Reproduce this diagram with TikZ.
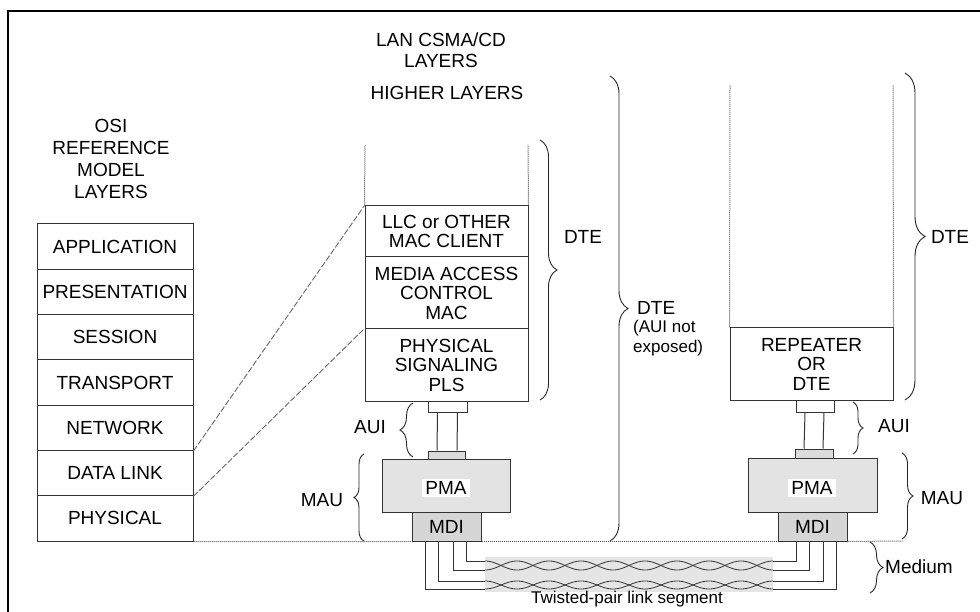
\documentclass[tikz,border=0pt]{standalone}
\usepackage{fontspec}
\setmainfont{Liberation Sans}
\usetikzlibrary{decorations.pathreplacing,calc}
\begin{document}
\begin{tikzpicture}[x=1pt,y=-1pt,
  every node/.style={font=\fontsize{19}{20}\selectfont, text=black, inner sep=0pt},
  small/.style={font=\fontsize{17}{20}\selectfont},
  box/.style={draw=black!80, line width=1pt, align=center},
  osi/.style={box, minimum width=156pt, minimum height=45.29pt},
  stk/.style={box, minimum width=163pt, font=\fontsize{19}{19.5}\selectfont},
  dotline/.style={densely dotted, draw=black!70, line width=1pt},
  dashline/.style={dash pattern=on 6pt off 2pt, draw=black!60, line width=0.9pt},
  brc/.style={decorate, decoration={brace, amplitude=#1}, line width=0.9pt, draw=black!85},
  wire/.style={draw=black!80, line width=0.8pt},
  conn/.style={draw=black!80, line width=1pt},
]
\useasboundingbox (0,0) rectangle (980,612);
\clip (0,0) rectangle (980,612);
% frame
\draw[line width=2.5pt] (8,11) rectangle (1000,640);

% titles
\node[align=center, font=\fontsize{19}{22}\selectfont] (osit) at (111,158.5) {OSI\\REFERENCE\\MODEL\\LAYERS};
\node[align=center, font=\fontsize{19}{21}\selectfont] (lant) at (441,50.5) {LAN CSMA/CD\\LAYERS};
\node (higher) at (447,93) {HIGHER LAYERS};

% OSI stack
\node[osi] (app) at (115,246.6) {APPLICATION};
\node[osi] (pres) at (115,291.9) {PRESENTATION};
\node[osi] (sess) at (115,337.2) {SESSION};
\node[osi] (trans) at (115,382.5) {TRANSPORT};
\node[osi] (net) at (115,427.8) {NETWORK};
\node[osi] (dl) at (115,473.1) {DATA LINK};
\node[osi] (phys) at (115,518.4) {PHYSICAL};

% LAN stack
\node[stk, minimum height=51pt] (llc) at (446.5,231.5) {LLC or OTHER\\MAC CLIENT};
\node[stk, minimum height=72pt] (mac) at (446.5,293) {MEDIA ACCESS\\CONTROL\\MAC};
\node[stk, minimum height=72pt] (pls) at (446.5,365) {PHYSICAL\\SIGNALING\\PLS};
\coordinate (lt1) at (365,145);
\coordinate (lt2) at (528,145);
\draw[dotline] (llc.north west) -- (lt1);
\draw[dotline] (llc.north east) -- (lt2);

% mapping lines
\draw[dashline] (net.south east) -- (llc.north west);
\draw[dashline] (dl.south east) -- (pls.north west);

% left AUI / MAU
\node[conn, fill=white, minimum width=39pt, minimum height=11pt] (auiLu) at (447.5,406.5) {};
\node[conn, fill=black!14, minimum width=37pt, minimum height=8pt] (auiLl) at (447,455) {};
\draw[conn] ([xshift=-10pt]auiLu.south) -- ([xshift=-10pt]auiLl.north);
\draw[conn] ([xshift=10pt]auiLu.south) -- ([xshift=10pt]auiLl.north);
\node[conn, fill=black!11, minimum width=128pt, minimum height=53pt] (pmaL) at (446,485.5) {};
\node[fill=white, inner xsep=3pt, inner ysep=2pt] (pmaLt) at (446,488) {PMA};
\node[conn, fill=black!16, minimum width=69pt, minimum height=29pt] (mdiL) at (446.5,526.5) {MDI};

% right stack
\node[stk, minimum height=72pt] (rep) at (811.5,364) {REPEATER\\OR\\DTE};
\coordinate (rt1) at (730,85);
\coordinate (rt2) at (893,85);
\draw[dotline] (rep.north west) -- (rt1);
\draw[dotline] (rep.north east) -- (rt2);

% right AUI / MAU
\node[conn, fill=white, minimum width=38pt, minimum height=12pt] (auiRu) at (815,406) {};
\node[conn, fill=black!14, minimum width=38pt, minimum height=9pt] (auiRl) at (814,453.5) {};
\draw[conn] ([xshift=-10pt]auiRu.south) -- ([xshift=-10pt]auiRl.north);
\draw[conn] ([xshift=9pt]auiRu.south) -- ([xshift=9pt]auiRl.north);
\node[conn, fill=black!11, minimum width=129pt, minimum height=54pt] (pmaR) at (812.5,485) {};
\node[fill=white, inner xsep=3pt, inner ysep=2pt] (pmaRt) at (812,488) {PMA};
\node[conn, fill=black!16, minimum width=69pt, minimum height=29pt] (mdiR) at (812.5,526.5) {MDI};

% baseline
\coordinate (baseR) at (903,541);
\draw[dotline] (phys.south east) -- (mdiL.south west);
\draw[dotline] (mdiL.south east) -- (mdiR.south west);
\draw[dotline] (mdiR.south east) -- (baseR);

% braces
\coordinate (b1a) at (540,140); \coordinate (b1b) at (540,400);
\draw[brc=17pt] (b1a) -- (b1b);
\node (dte1) at (583,237) {DTE};
\coordinate (b2a) at (610,76); \coordinate (b2b) at (610,541);
\draw[brc=18pt] (b2a) -- (b2b);
\node[anchor=west] (dte2) at (637,308) {DTE};
\node[small, anchor=west, align=left] (dte2n) at (633,338) {(AUI not\\exposed)};
\coordinate (b3a) at (905,73); \coordinate (b3b) at (905,400);
\draw[brc=20pt] (b3a) -- (b3b);
\node (dte3) at (950,237) {DTE};

\coordinate (b4a) at (413,457); \coordinate (b4b) at (413,403);
\draw[brc=13pt] (b4a) -- (b4b);
\node (auiLt) at (370,427) {AUI};
\coordinate (b5a) at (364,541); \coordinate (b5b) at (364,454);
\draw[brc=10pt] (b5a) -- (b5b);
\node (mauLt) at (322,500) {MAU};

\coordinate (b6a) at (853,402); \coordinate (b6b) at (853,454);
\draw[brc=10pt] (b6a) -- (b6b);
\node (auiRt) at (894,426) {AUI};
\coordinate (b7a) at (902,453); \coordinate (b7b) at (902,539);
\draw[brc=11pt] (b7a) -- (b7b);
\node (mauRt) at (942,498) {MAU};
\coordinate (b8a) at (870,542); \coordinate (b8b) at (870,593);
\draw[brc=13pt] (b8a) -- (b8b);
\node[anchor=west] (medium) at (885,567) {Medium};

% twisted pair
\fill[black!10] (485,557) rectangle (773,592);
\coordinate (w1L) at (485,561); \coordinate (w2L) at (485,570);
\coordinate (w3L) at (485,581); \coordinate (w4L) at (485,589);
\coordinate (w1R) at (773,561); \coordinate (w2R) at (773,570);
\coordinate (w3R) at (773,581); \coordinate (w4R) at (773,589);
\draw[wire] ([xshift=19.5pt]mdiL.south) |- (w1L);
\draw[wire] ([xshift=6.5pt]mdiL.south) |- (w2L);
\draw[wire] ([xshift=-8.5pt]mdiL.south) |- (w3L);
\draw[wire] ([xshift=-21.5pt]mdiL.south) |- (w4L);
\draw[wire] ([xshift=-16.5pt]mdiR.south) |- (w1R);
\draw[wire] ([xshift=-3.5pt]mdiR.south) |- (w2R);
\draw[wire] ([xshift=10.5pt]mdiR.south) |- (w3R);
\draw[wire] ([xshift=23.5pt]mdiR.south) |- (w4R);
\draw[wire] plot[domain=485:773, samples=145, smooth] (\x, {565.5 + 4.5*sin(5.625*(\x-501))});
\draw[wire] plot[domain=485:773, samples=145, smooth] (\x, {565.5 - 4.5*sin(5.625*(\x-501))});
\draw[wire] plot[domain=485:773, samples=145, smooth] (\x, {585 + 4*sin(5.625*(\x-501))});
\draw[wire] plot[domain=485:773, samples=145, smooth] (\x, {585 - 4*sin(5.625*(\x-501))});
\node[small] (tpl) at (627,599) {Twisted-pair link segment};
\end{tikzpicture}
\end{document}
